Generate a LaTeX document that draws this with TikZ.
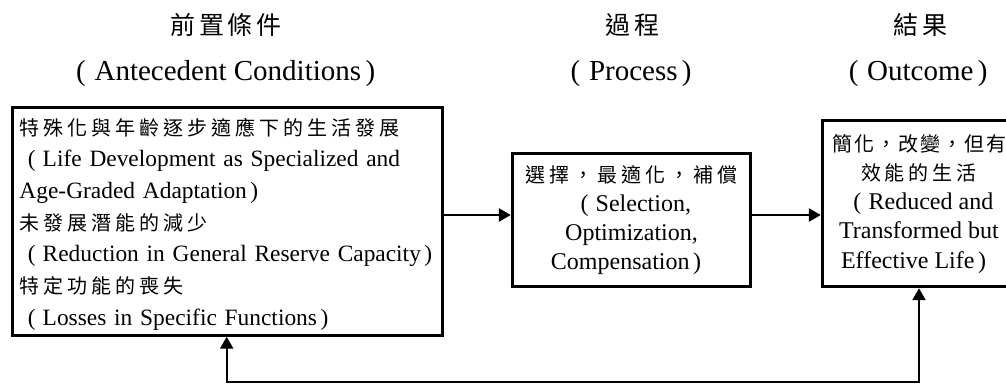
\documentclass[tikz,border=0pt]{standalone}
\usepackage{fontspec}
\setmainfont{Liberation Serif}
\newfontfamily\cjk[LetterSpace=20]{Noto Sans CJK TC}
\usetikzlibrary{arrows.meta}
\newcommand\lpar{\mbox{\kern0.36em(\kern0.3em}}
\newcommand\rpar{\mbox{\kern0.15em)}}
\newcommand\rparc{\mbox{\kern0.15em)\kern0.45em}}
\newcommand\zh[1]{{\cjk\fontsize{20}{24}\selectfont #1}}
\begin{document}
\begin{tikzpicture}[x=1pt,y=-1pt,
  box/.style={draw, line width=3pt, inner sep=0pt},
  conn/.style={line width=2.6pt, -{Triangle[length=12pt,width=13pt]}},
  back/.style={line width=2.2pt, {Triangle[length=12pt,width=13pt]}-{Triangle[length=12pt,width=13pt]}},
  zhtitle/.style={font=\cjk\fontsize{25}{28}\selectfont\addfontfeature{LetterSpace=14}, anchor=base, inner sep=0pt},
  entitle/.style={font=\fontsize{29}{34}\selectfont, anchor=base, inner sep=0pt},
]
\useasboundingbox (0,0) rectangle (1006,383);

% titles
\node[zhtitle] (t1) at (226,34) {前置條件};
\node[entitle] (t1e) at (227,80) {\lpar Antecedent Conditions\rparc};
\node[zhtitle] (t2) at (632.5,34) {過程};
\node[entitle] (t2e) at (632.5,80) {\lpar Process\rparc};
\node[zhtitle] (t3) at (920.5,34) {結果};
\node[entitle] (t3e) at (919.5,80) {\lpar Outcome\rparc};

% boxes
\node[box, anchor=north west, minimum width=430pt, minimum height=228pt,
  text width=416pt, align=left, font=\fontsize{23.4}{31.7}\selectfont] (lbox) at (11,105.7) {%
\rule{0pt}{23pt}\zh{特殊化與年齡逐步適應下的生活發展}\\
\mbox{\lpar Life Development as Specialized and}\\
\mbox{Age-Graded Adaptation\rpar}\\
\zh{未發展潛能的減少}\\
\mbox{\lpar Reduction in General Reserve Capacity\rpar}\\
\zh{特定功能的喪失}\\
\mbox{\lpar Losses in Specific Functions\rpar}};

\node[box, minimum width=238.4pt, minimum height=133.4pt, align=center,
  font=\fontsize{24}{29.2}\selectfont] (pbox) at (631.5,220) {%
\zh{選擇，最適化，補償}\\
\lpar Selection,\\
Optimization,\\
Compensation\rparc};

\node[box, minimum width=193.4pt, minimum height=166pt, align=center,
  font=\fontsize{24}{29.2}\selectfont] (obox) at (919,203.7) {%
{\cjk\fontsize{20}{24}\selectfont\addfontfeature{LetterSpace=10}簡化，改變，但有}\\
\zh{效能的生活}\\
\lpar Reduced and\\
Transformed but\\
Effective Life\rparc};

% connectors
\coordinate (m) at (0,215);
\draw[conn] (lbox.east |- m) -- (pbox.west |- m);
\draw[conn] (pbox.east |- m) -- (obox.west |- m);
\coordinate (bl) at (226.7,381.6);
\coordinate (br) at (919,381.6);
\draw[back] (lbox.south -| bl) -- (bl) -- (br) -- (obox.south -| br);
\end{tikzpicture}
\end{document}
